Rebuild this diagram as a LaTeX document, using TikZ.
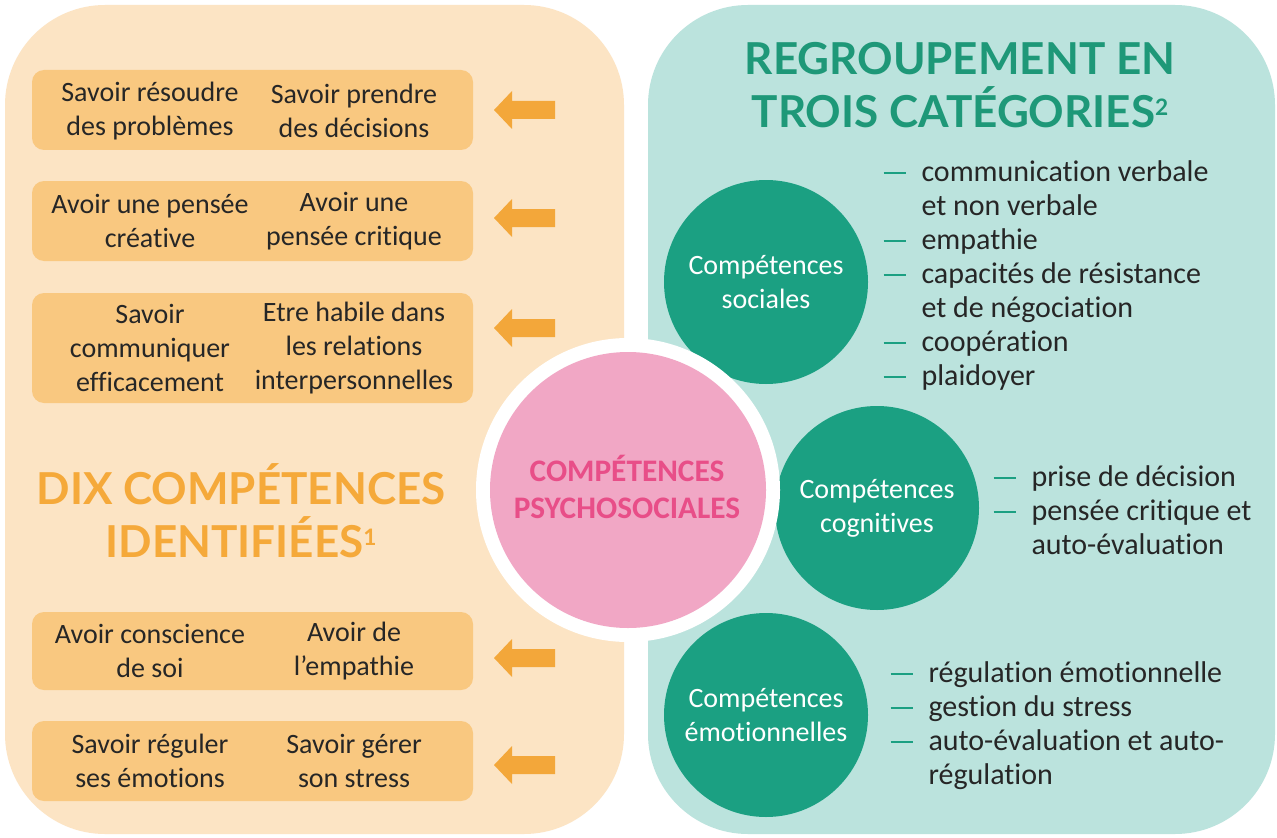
\documentclass[tikz,border=0pt]{standalone}
\usepackage{fontspec}
\setmainfont{Carlito}[Ligatures=NoCommon]
\newfontfamily\titrefont{Lato}

\definecolor{fondorange}{RGB}{252,228,196}
\definecolor{boxorange}{RGB}{249,200,128}
\definecolor{flecheorange}{RGB}{243,167,58}
\definecolor{titreorange}{RGB}{245,169,58}
\definecolor{fondvert}{RGB}{187,227,221}
\definecolor{discvert}{RGB}{27,160,130}
\definecolor{titrevert}{RGB}{30,152,120}
\definecolor{roserond}{RGB}{241,167,197}
\definecolor{rosetexte}{RGB}{232,78,136}
\definecolor{textegris}{RGB}{38,38,38}

\newcommand{\tiret}{\makebox[28.5pt][l]{\textcolor{discvert}{\rule[5.5pt]{16.5pt}{1.5pt}}}}
\newcommand{\suite}{\hspace*{28.5pt}}
\newcommand{\appel}[1]{\raisebox{9pt}{\fontsize{17}{17}\selectfont #1}}

\tikzset{every picture/.style={line width=0.75pt}}
\tikzset{
  corps/.style={font=\fontsize{21}{25.5}\selectfont, text=textegris, align=center, inner sep=0pt},
  liste/.style={corps, font=\fontsize{22.5}{25.5}\selectfont, align=left, anchor=base west},
  disque/.style={circle, fill=discvert, minimum size=153pt, inner sep=0pt, text=white, align=center, font=\fontsize{21}{25.5}\selectfont},
  titre/.style={font=\titrefont\bfseries\fontsize{33}{39.5}\selectfont, align=center, inner sep=0pt},
  fleche/.style={fill=flecheorange, draw=none},
  cadre/.style={fill=boxorange, draw=none, rounded corners=9pt},
}

\begin{document}
\begin{tikzpicture}[x=0.75pt,y=0.75pt,yscale=-1,xscale=1]
\useasboundingbox (0,0) rectangle (1277,838);
\fill [white] (0,0) rectangle (1277,838);
%Shape: Panels
\fill [fondorange, rounded corners=75pt] (5,5) rectangle (624,834);
\fill [fondvert, rounded corners=75pt] (648,5) rectangle (1275,834);
%Shape: Boxes
\draw [cadre] (32,70) rectangle (473,150);
\draw [cadre] (32,181) rectangle (473,261);
\draw [cadre] (32,293) rectangle (473,403);
\draw [cadre] (32,612) rectangle (473,690);
\draw [cadre] (32,721) rectangle (473,801);
%Shape: Left Arrows
\draw [fleche] (494,110) -- (512,91) -- (512,101) -- (555,101) -- (555,119) -- (512,119) -- (512,129) -- cycle ;
\draw [fleche] (494,218) -- (512,199) -- (512,209) -- (555,209) -- (555,227) -- (512,227) -- (512,237) -- cycle ;
\draw [fleche] (494,328) -- (512,309) -- (512,319) -- (555,319) -- (555,337) -- (512,337) -- (512,347) -- cycle ;
\draw [fleche] (494,658) -- (512,639) -- (512,649) -- (555,649) -- (555,667) -- (512,667) -- (512,677) -- cycle ;
\draw [fleche] (494,765) -- (512,746) -- (512,756) -- (555,756) -- (555,774) -- (512,774) -- (512,784) -- cycle ;
% Text Node
\node [corps] (resoudre) at (150,111) {Savoir résoudre\\des problèmes};
\node [corps] (decider) at (354,111) {Savoir prendre\\des décisions};
\node [corps] (creative) at (150,221) {Avoir une pensée\\créative};
\node [corps] (critique) at (354,221) {Avoir une\\pensée critique};
\node [corps] (communiquer) at (150,348) {Savoir\\communiquer\\efficacement};
\node [corps] (relations) at (354,348) {Etre habile dans\\les relations\\interpersonnelles};
\node [corps] (conscience) at (150,651) {Avoir conscience\\de soi};
\node [corps] (empathie) at (354,651) {Avoir de\\l’empathie};
\node [corps] (emotions) at (150,761) {Savoir réguler\\ses émotions};
\node [corps] (stress) at (354,761) {Savoir gérer\\son stress};
% Titles
\node [titre, text=titreorange] (dix) at (241,511) {DIX COMPÉTENCES\\IDENTIFIÉES\appel{1}};
\node [titre, text=titrevert] (trois) at (960,85) {REGROUPEMENT EN\\TROIS CATÉGORIES\appel{2}};
%Shape: Circles
\node [disque] (sociales) at (766,282) {Compétences\\sociales};
\node [disque] (cognitives) at (877,508) {Compétences\\cognitives};
\node [disque] (emotionnelles) at (766,715) {Compétences\\émotionnelles};
\node [circle, fill=white, minimum size=228pt] (anneau) at (628,490) {};
\node [circle, fill=roserond, minimum size=207pt] (coeur) at (628,490) {};
\node [font=\bfseries\fontsize{23.5}{27.75}\selectfont, text=rosetexte, align=center, inner sep=0pt] (psycho) at (627,487) {COMPÉTENCES\\PSYCHOSOCIALES};
% Lists
\node [liste] (listesoc) at (883,385) {\tiret communication verbale\\\suite et non verbale\\\tiret empathie\\\tiret capacités de résistance\\\suite et de négociation\\\tiret coopération\\\tiret plaidoyer};
\node [liste] (listecog) at (993,554) {\tiret prise de décision\\\tiret pensée critique et\\\suite auto-évaluation};
\node [liste] (listeemo) at (890,784) {\tiret régulation émotionnelle\\\tiret gestion du stress\\\tiret auto-évaluation et auto-\\\suite régulation};
\end{tikzpicture}
\end{document}
